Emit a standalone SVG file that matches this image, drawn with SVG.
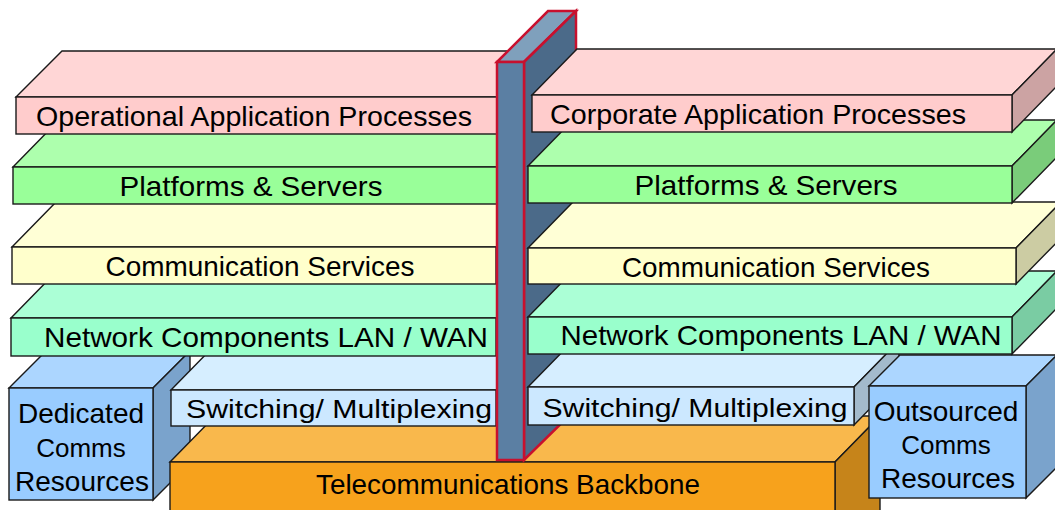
<svg xmlns="http://www.w3.org/2000/svg" width="1055" height="510" viewBox="0 0 1055 510">
<style>
.s{stroke:#1a1a1a;stroke-width:1.4;stroke-linejoin:miter}
.t{font-family:"Liberation Sans",Arial,sans-serif;font-size:28px;fill:#000;text-anchor:middle}
.pf{fill:#ffcccc}.pt{fill:#ffd6d6}.ps{fill:#cca3a3}
.gf{fill:#99ff99}.gt{fill:#adffad}.gs{fill:#7acc7a}
.yf{fill:#ffffcc}.yt{fill:#ffffd6}.ys{fill:#cccca3}
.mf{fill:#99ffcc}.mt{fill:#abffd6}.ms{fill:#7acca3}
.lf{fill:#cce8ff}.lt{fill:#d6eeff}.ls{fill:#a3bacc}
.of{fill:#f7a21c}.ot{fill:#f9b84c}.os{fill:#c6841a}
.bf{fill:#99ccff}.bt{fill:#acd6ff}.bs{fill:#7aa3cc}
.pil{stroke:#c8102e;stroke-width:2.5;stroke-linejoin:miter}
</style>
<rect width="1055" height="510" fill="#ffffff"/>

<g id="dedicated">
<polygon class="s bt" points="9,388 46,351 190,351 153,388"/>
<polygon class="s bs" points="153,388 190,351 190,463 153,500"/>
<rect class="s bf" x="9" y="388" width="144" height="112"/>
<text class="t" x="81" y="423">Dedicated</text>
<text class="t" x="81" y="457" style="font-size:26px">Comms</text>
<text class="t" x="82" y="491">Resources</text>
</g>

<g id="backbone">
<polygon class="s ot" points="170,462 215,416 880,416 835,462"/>
<polygon class="s os" points="835,462 880,416 880,520 835,520"/>
<rect class="s of" x="170" y="462" width="665" height="58"/>
<text class="t" x="508" y="494" textLength="384" lengthAdjust="spacingAndGlyphs">Telecommunications Backbone</text>
</g>

<g id="switching-left">
<polygon class="s lt" points="171,390 216,344 541,344 496,390"/>
<rect class="s lf" x="171" y="390" width="325" height="36"/>
<text class="t" x="339" y="418" style="font-size:26px" textLength="306" lengthAdjust="spacingAndGlyphs">Switching/ Multiplexing</text>
</g>

<g id="network-left">
<polygon class="s mt" points="11,318 56,272 541,272 496,318"/>
<rect class="s mf" x="11" y="318" width="485" height="38"/>
<text class="t" x="266" y="347" textLength="444" lengthAdjust="spacingAndGlyphs">Network Components LAN / WAN</text>
</g>

<g id="comm-left">
<polygon class="s yt" points="12,247 57,201 541,201 496,247"/>
<rect class="s yf" x="12" y="247" width="484" height="37"/>
<text class="t" x="260" y="276" textLength="309" lengthAdjust="spacingAndGlyphs">Communication Services</text>
</g>

<g id="platforms-left">
<polygon class="s gt" points="13,167 58,121 542,121 497,167"/>
<rect class="s gf" x="13" y="167" width="484" height="37"/>
<text class="t" x="251" y="196" textLength="263" lengthAdjust="spacingAndGlyphs">Platforms &amp; Servers</text>
</g>

<g id="operational">
<polygon class="s pt" points="16,97 62,51 542,51 497,97"/>
<rect class="s pf" x="16" y="97" width="481" height="37"/>
<text class="t" x="254" y="126" textLength="436" lengthAdjust="spacingAndGlyphs">Operational Application Processes</text>
</g>

<g id="pillar">
<polygon class="pil" fill="#7fa0bc" points="497,62 548,11 576,11 524,62"/>
<polygon class="pil" fill="#4b6a89" points="524,62 576,11 576,409 524,460"/>
<rect class="pil" fill="#5b7fa3" x="497" y="62" width="27" height="398"/>
</g>

<g id="switching-right">
<polygon class="s lt" points="528,387 573,341 899,341 854,387"/>
<polygon class="s ls" points="854,387 899,341 899,379 854,425"/>
<rect class="s lf" x="528" y="387" width="326" height="38"/>
<text class="t" x="695" y="417" style="font-size:26px" textLength="305" lengthAdjust="spacingAndGlyphs">Switching/ Multiplexing</text>
</g>

<g id="outsourced">
<polygon class="s bt" points="869,386 900,355 1057,355 1026,386"/>
<polygon class="s bs" points="1026,386 1057,355 1057,467 1026,498"/>
<rect class="s bf" x="869" y="386" width="157" height="112"/>
<text class="t" x="946" y="421">Outsourced</text>
<text class="t" x="946" y="454" style="font-size:26px">Comms</text>
<text class="t" x="948" y="488">Resources</text>
</g>

<g id="network-right">
<polygon class="s mt" points="528,317 573,271 1057,271 1012,317"/>
<polygon class="s ms" points="1012,317 1057,271 1057,308 1012,354"/>
<rect class="s mf" x="528" y="317" width="484" height="37"/>
<text class="t" x="781" y="345" textLength="441" lengthAdjust="spacingAndGlyphs">Network Components LAN / WAN</text>
</g>

<g id="comm-right">
<polygon class="s yt" points="528,248 573,202 1061,202 1016,248"/>
<polygon class="s ys" points="1016,248 1061,202 1061,238 1016,284"/>
<rect class="s yf" x="528" y="248" width="488" height="36"/>
<text class="t" x="776" y="277" textLength="308" lengthAdjust="spacingAndGlyphs">Communication Services</text>
</g>

<g id="platforms-right">
<polygon class="s gt" points="528,166 573,120 1057,120 1012,166"/>
<polygon class="s gs" points="1012,166 1057,120 1057,157 1012,203"/>
<rect class="s gf" x="528" y="166" width="484" height="37"/>
<text class="t" x="766" y="195" textLength="263" lengthAdjust="spacingAndGlyphs">Platforms &amp; Servers</text>
</g>

<g id="corporate">
<polygon class="s pt" points="532,95 577,49 1057,49 1012,95"/>
<polygon class="s ps" points="1012,95 1057,49 1057,86 1012,132"/>
<rect class="s pf" x="532" y="95" width="480" height="37"/>
<text class="t" x="758" y="124" textLength="416" lengthAdjust="spacingAndGlyphs">Corporate Application Processes</text>
</g>

<g id="connectors"></g>
</svg>
